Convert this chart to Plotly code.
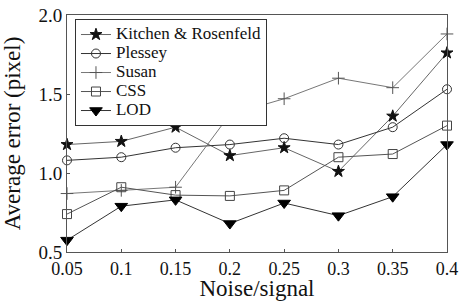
import plotly.graph_objects as go

x_vals = [0.05, 0.1, 0.15, 0.2, 0.25, 0.3, 0.35, 0.4]
x_labels = ["0.05", "0.1", "0.15", "0.2", "0.25", "0.3", "0.35", "0.4"]
kitchen = [1.18, 1.20, 1.29, 1.11, 1.16, 1.01, 1.36, 1.76]
plessey = [1.08, 1.10, 1.16, 1.18, 1.22, 1.18, 1.29, 1.53]
susan = [0.87, 0.89, 0.91, 1.37, 1.47, 1.60, 1.54, 1.88]
css = [0.74, 0.91, 0.86, 0.855, 0.89, 1.10, 1.12, 1.30]
lod = [0.575, 0.79, 0.83, 0.68, 0.81, 0.73, 0.85, 1.18]
y_ticks = [0.5, 1.0, 1.5, 2.0]

font = "Liberation Serif"

series = [
    ("Kitchen &amp; Rosenfeld", kitchen, "star", "#111", "#666", 9),
    ("Plessey", plessey, "circle-open", "#333", "#333", 9),
    ("Susan", susan, "cross-thin-open", "#555", "#777", 9),
    ("CSS", css, "square-open", "#444", "#555", 9),
    ("LOD", lod, "triangle-down", "#000", "#333", 11),
]

fig = go.Figure()
for name, vals, sym, mcol, lcol, size in series:
    fig.add_trace(go.Scatter(
        x=x_vals, y=vals, mode="lines+markers",
        name='<span style="font-size:17px">' + name + "</span>",
        line=dict(color=lcol, width=1),
        marker=dict(symbol=sym, size=size, color=mcol,
                    line=dict(color=mcol, width=1)),
        cliponaxis=False,
    ))

fig.update_layout(
    width=461, height=301,
    margin=dict(l=67, r=14, t=15, b=49, autoexpand=False),
    paper_bgcolor="white", plot_bgcolor="white",
    font=dict(family=font, size=19, color="#111"),
    showlegend=True,
    legend=dict(x=0.021, y=0.983, xanchor="left", yanchor="top",
                bgcolor="white", bordercolor="#333", borderwidth=1,
                font=dict(family=font, size=12, color="#111"),
                tracegroupgap=0, itemwidth=30),
    xaxis=dict(range=[0.05, 0.4], tickvals=x_vals, ticktext=x_labels,
               automargin=True,
               showgrid=False, zeroline=False, showline=True,
               linecolor="#555", linewidth=1, mirror=True,
               ticks="inside", ticklen=3, tickcolor="#555",
               tickfont=dict(size=18),
               title=dict(text="Noise/signal", standoff=4)),
    yaxis=dict(range=[0.5, 2.0], tickvals=y_ticks,
               ticktext=["0.5", "1.0", "1.5", "2.0"],
               automargin=False,
               showgrid=False, zeroline=False, showline=True,
               linecolor="#555", linewidth=1, mirror=True,
               ticks="inside", ticklen=3, tickcolor="#555",
               title=dict(text="Average error (pixel)", standoff=11)),
)

fig.write_html("out.html", config={"displayModeBar": False},
               post_script="document.body.style.margin='0';")
